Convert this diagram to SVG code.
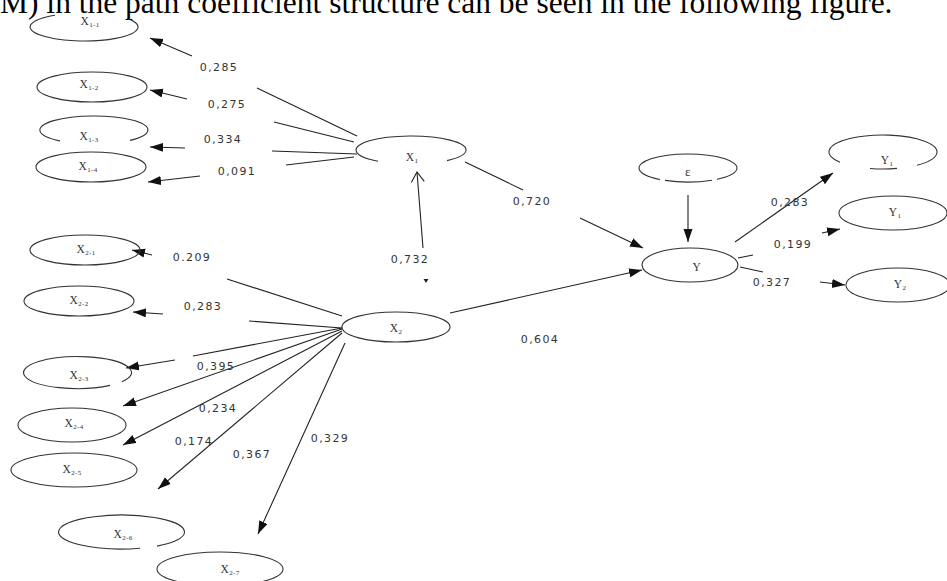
<svg xmlns="http://www.w3.org/2000/svg" width="947" height="581" viewBox="0 0 947 581">
<style>
.node{fill:none;stroke:#333;stroke-width:1.1}
.nt{font-family:"Liberation Serif",serif;font-size:11.5px;letter-spacing:0.5px;fill:#333;text-anchor:middle}
.sub{font-size:7px;letter-spacing:0.3px}
.ln{stroke:#222;stroke-width:1.1;fill:none}
.arr{marker-end:url(#ah)}
.lbl{font-family:"DejaVu Sans",sans-serif;font-size:11px;letter-spacing:1.4px;fill:#333;text-anchor:middle}
.head{font-family:"Liberation Serif",serif;font-size:31.5px;fill:#000}
</style>
<defs>
<marker id="ah" markerUnits="userSpaceOnUse" markerWidth="14" markerHeight="10" refX="13" refY="4.5" orient="auto">
<path d="M0,0 L13,4.5 L0,9 z" fill="#111"/>
</marker>
<marker id="oh" markerUnits="userSpaceOnUse" markerWidth="14" markerHeight="16" refX="11" refY="7" orient="auto">
<path d="M1,0.5 L11,7 L1,13.5" fill="none" stroke="#222" stroke-width="1.1"/>
</marker>
</defs>
<rect width="947" height="581" fill="#fff"/>
<text class="head" x="0" y="12.5">M) in the path coefficient structure can be seen in the following figure.</text>

<g id="connectors">
<line class="ln" x1="357" y1="136" x2="257" y2="88"/>
<line class="ln arr" x1="192" y1="56" x2="150" y2="38"/>
<line class="ln" x1="354" y1="142" x2="274" y2="122"/>
<line class="ln arr" x1="187" y1="99" x2="150" y2="90"/>
<line class="ln" x1="357" y1="154" x2="272" y2="151"/>
<line class="ln arr" x1="185" y1="148" x2="150" y2="147"/>
<line class="ln" x1="354" y1="157" x2="286" y2="165"/>
<line class="ln arr" x1="200" y1="176" x2="148" y2="182"/>
<line class="ln" x1="465" y1="162" x2="523" y2="190"/>
<line class="ln arr" x1="580" y1="218" x2="643" y2="248"/>
<line class="ln" x1="423" y1="248" x2="417" y2="172" marker-end="url(#oh)"/>
<polygon points="423.5,279 428.5,279 426,283" fill="#222"/>
<line class="ln arr" x1="450" y1="313" x2="642" y2="270"/>
<line class="ln arr" x1="688" y1="195" x2="688" y2="242"/>
<line class="ln arr" x1="735" y1="242" x2="833" y2="173"/>
<line class="ln" x1="738" y1="258" x2="753" y2="255"/>
<line class="ln arr" x1="822" y1="233" x2="840" y2="229"/>
<line class="ln" x1="740" y1="267" x2="763" y2="272"/>
<line class="ln arr" x1="820" y1="282" x2="845" y2="285"/>
<line class="ln" x1="342" y1="316" x2="227" y2="279"/>
<line class="ln arr" x1="152" y1="255" x2="132" y2="250"/>
<line class="ln" x1="342" y1="328" x2="249" y2="321"/>
<line class="ln arr" x1="163" y1="314" x2="133" y2="312"/>
<line class="ln" x1="342" y1="328" x2="193" y2="356"/>
<line class="ln arr" x1="175" y1="360" x2="126" y2="368"/>
<line class="ln arr" x1="342" y1="329" x2="123" y2="406"/>
<line class="ln arr" x1="342" y1="331" x2="123" y2="445"/>
<line class="ln arr" x1="342" y1="333" x2="158" y2="489"/>
<line class="ln arr" x1="345" y1="343" x2="258" y2="534"/>
</g>

<g id="edge-labels">
<text class="lbl" x="219" y="71">0,285</text>
<text class="lbl" x="227" y="108">0,275</text>
<text class="lbl" x="223" y="143">0,334</text>
<text class="lbl" x="237" y="175">0,091</text>
<text class="lbl" x="532" y="205">0,720</text>
<text class="lbl" x="410" y="263">0,732</text>
<text class="lbl" x="540" y="343">0,604</text>
<text class="lbl" x="790" y="206">0,283</text>
<text class="lbl" x="793" y="248">0,199</text>
<text class="lbl" x="772" y="286">0,327</text>
<text class="lbl" x="192" y="261">0.209</text>
<text class="lbl" x="203" y="310">0,283</text>
<text class="lbl" x="216" y="370">0,395</text>
<text class="lbl" x="218" y="412">0,234</text>
<text class="lbl" x="194" y="445">0,174</text>
<text class="lbl" x="252" y="458">0,367</text>
<text class="lbl" x="330" y="442">0,329</text>
</g>

<g id="X1-1"><path class="node" d="M127,18.5 A54,14 0 1 1 55,15.2"/><text class="nt" x="90" y="25">X<tspan class="sub" dy="1.5">1-1</tspan></text></g>
<g id="X1-2"><ellipse class="node" cx="92" cy="87" rx="55" ry="15"/><text class="nt" x="89" y="88">X<tspan class="sub" dy="1.5">1-2</tspan></text></g>
<g id="X1-3"><path class="node" d="M60,140.9 A54,14 0 1 1 130,140.4"/><text class="nt" x="89" y="140">X<tspan class="sub" dy="1.5">1-3</tspan></text></g>
<g id="X1-4"><ellipse class="node" cx="91" cy="167" rx="55" ry="15"/><text class="nt" x="88" y="170">X<tspan class="sub" dy="1.5">1-4</tspan></text></g>
<g id="X1"><path class="node" d="M378,161.2 A55,14 0 1 1 447,160.6"/><text class="nt" x="412" y="161">X<tspan class="sub" dy="1.5">1</tspan></text></g>
<g id="epsilon"><path class="node" d="M660,179.5 A49,14 0 1 1 717,179.3"/><path class="node" d="M665,180.4 A49,14 0 0 0 712,180.2"/><text class="nt" x="688" y="176" style="font-size:13px">ε</text></g>
<g id="Y"><ellipse class="node" cx="690" cy="265" rx="48" ry="17"/><text class="nt" x="697" y="271">Y</text></g>
<g id="Y1a"><path class="node" d="M840,162.3 A54,17 0 1 1 917,165.2"/><path class="node" d="M870,168.5 A54,17 0 0 0 897,168.4"/><text class="nt" x="887" y="164">Y<tspan class="sub" dy="1.5">1</tspan></text></g>
<g id="Y1b"><ellipse class="node" cx="893" cy="213" rx="54" ry="17"/><text class="nt" x="895" y="216">Y<tspan class="sub" dy="1.5">1</tspan></text></g>
<g id="Y2"><ellipse class="node" cx="898" cy="285" rx="52" ry="17"/><text class="nt" x="900" y="288">Y<tspan class="sub" dy="1.5">2</tspan></text></g>
<g id="X2"><ellipse class="node" cx="396" cy="327" rx="54" ry="15"/><text class="nt" x="396" y="332">X<tspan class="sub" dy="1.5">2</tspan></text></g>
<g id="X2-1"><ellipse class="node" cx="85" cy="250" rx="55" ry="15"/><text class="nt" x="86" y="253">X<tspan class="sub" dy="1.5">2-1</tspan></text></g>
<g id="X2-2"><ellipse class="node" cx="79" cy="301" rx="55" ry="15"/><text class="nt" x="79" y="304">X<tspan class="sub" dy="1.5">2-2</tspan></text></g>
<g id="X2-3"><path class="node" d="M110,385.4 A54,16 0 1 1 122,381.7"/><text class="nt" x="79" y="379">X<tspan class="sub" dy="1.5">2-3</tspan></text></g>
<g id="X2-4"><ellipse class="node" cx="72" cy="425" rx="54" ry="17"/><text class="nt" x="74" y="427">X<tspan class="sub" dy="1.5">2-4</tspan></text></g>
<g id="X2-5"><ellipse class="node" cx="74" cy="470" rx="63" ry="17"/><text class="nt" x="72" y="473">X<tspan class="sub" dy="1.5">2-5</tspan></text></g>
<g id="X2-6"><path class="node" d="M140,548.3 A63,17 0 1 1 157,546.1"/><text class="nt" x="123" y="538">X<tspan class="sub" dy="1.5">2-6</tspan></text></g>
<g id="X2-7"><ellipse class="node" cx="220" cy="569" rx="63" ry="17"/><text class="nt" x="230" y="573">X<tspan class="sub" dy="1.5">2-7</tspan></text></g>
</svg>
